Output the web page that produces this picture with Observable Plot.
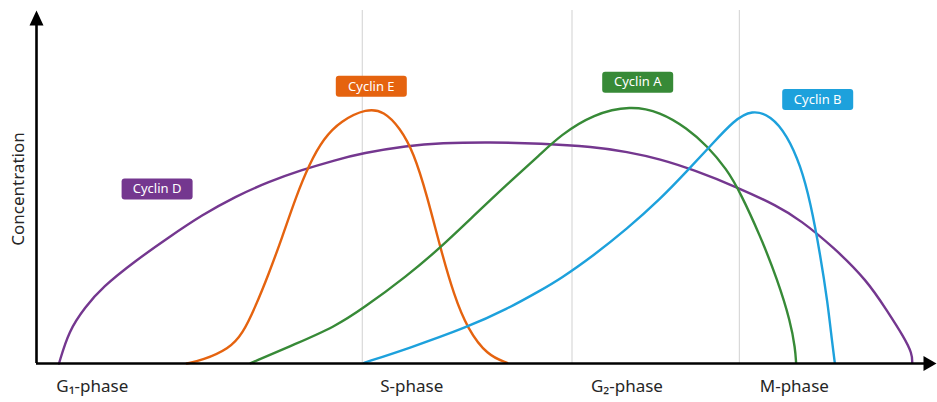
<!DOCTYPE html>
<html>
<head>
<meta charset="utf-8">
<script src="https://cdn.jsdelivr.net/npm/d3@7"></script>
<script src="https://cdn.jsdelivr.net/npm/@observablehq/plot@0.6"></script>
<style>
  html, body { margin: 0; padding: 0; background: #fff; }
  #chart svg { display: block; overflow: visible; }
</style>
</head>
<body>
<div id="chart"></div>
<script>
// ---- Data (time in arbitrary units 0–100, concentration 0–101) ----
const seriesNames = ["Cyclin D", "Cyclin E", "Cyclin A", "Cyclin B"];
const seriesColors = ["#74378f", "#e5630f", "#378a37", "#1da1dc"];

const cyclinD_x = [2.5, 3.6, 5.4, 7.3, 11.0, 14.7, 18.4, 22.1, 25.8, 29.5, 33.2, 36.2, 41.2, 44.9, 50.4, 56.0, 61.9, 65.6, 69.3, 73.0, 77.9, 82.3, 84.9, 88.6, 92.3, 94.5, 96.4, 97.3, 97.3];
const cyclinD_y = [0.0, 9.4, 16.1, 21.8, 29.4, 36.1, 42.5, 47.8, 52.0, 55.4, 58.2, 60.2, 62.3, 63.1, 63.3, 63.0, 62.0, 60.6, 58.5, 55.4, 50.4, 45.1, 41.0, 33.2, 23.7, 15.1, 7.5, 2.8, 0.2];

const cyclinE_x = [16.7, 18.4, 21.4, 22.9, 24.3, 25.8, 27.3, 28.8, 30.3, 31.9, 33.8, 36.7, 38.6, 40.4, 41.9, 43.4, 44.9, 46.4, 47.9, 50.1, 52.3];
const cyclinE_y = [0.0, 0.9, 4.2, 8.5, 16.1, 25.6, 36.1, 47.5, 57.0, 64.4, 69.4, 73.0, 72.2, 67.4, 60.4, 48.0, 32.8, 19.4, 9.9, 2.3, 0.2];

const cyclinA_x = [23.8, 28.8, 33.2, 36.2, 41.2, 44.9, 48.6, 52.3, 56.0, 58.2, 61.9, 66.0, 69.3, 72.3, 74.5, 76.7, 78.2, 80.4, 82.3, 83.8, 84.3, 84.4];
const cyclinA_y = [0.1, 5.6, 10.6, 15.6, 25.1, 33.2, 42.3, 51.3, 59.9, 65.3, 71.4, 73.8, 72.0, 67.3, 62.3, 55.6, 48.9, 36.6, 24.2, 11.8, 4.2, 0.2];

const cyclinB_x = [36.4, 41.2, 47.9, 52.3, 56.0, 58.2, 61.9, 65.6, 69.3, 72.3, 74.9, 77.5, 79.5, 81.6, 83.4, 84.9, 86.0, 87.1, 87.9, 88.4, 88.7];
const cyclinB_y = [0.2, 4.2, 10.4, 15.6, 20.9, 24.2, 30.9, 38.5, 47.0, 55.1, 62.3, 69.6, 72.6, 70.9, 65.3, 56.6, 46.1, 30.9, 17.5, 6.1, 0.2];

// Phase tick labels and phase boundaries
const phaseLabels = ["G\u2081-phase", "S-phase", "G\u2082-phase", "M-phase"];
const phaseLabelX = [6.2, 41.7, 65.6, 84.2];
const phaseBoundaries = [36.2, 59.5, 78.1];

// Series label anchors
const labelX = [13.4, 37.2, 66.8, 86.8];
const labelY = [49.9, 79.3, 80.5, 75.5];

const xDomain = [0, 100];
const yDomain = [0, 101];

// ---- Build tables ----
const seriesXY = [[cyclinD_x, cyclinD_y], [cyclinE_x, cyclinE_y], [cyclinA_x, cyclinA_y], [cyclinB_x, cyclinB_y]];
const lines = seriesXY.flatMap(([xs, ys], i) => xs.map((x, j) => ({series: seriesNames[i], x, y: ys[j]})));
const labels = seriesNames.map((name, i) => ({series: name, x: labelX[i], y: labelY[i]}));
const phases = phaseLabels.map((t, i) => ({text: t, x: phaseLabelX[i]}));

// Custom symbols
const roundRect = {draw(ctx) {
  const w = 71, h = 21, r = 3, x0 = -w / 2, y0 = -h / 2;
  ctx.moveTo(x0 + r, y0);
  ctx.lineTo(x0 + w - r, y0);
  ctx.arcTo(x0 + w, y0, x0 + w, y0 + r, r);
  ctx.lineTo(x0 + w, y0 + h - r);
  ctx.arcTo(x0 + w, y0 + h, x0 + w - r, y0 + h, r);
  ctx.lineTo(x0 + r, y0 + h);
  ctx.arcTo(x0, y0 + h, x0, y0 + h - r, r);
  ctx.lineTo(x0, y0 + r);
  ctx.arcTo(x0, y0, x0 + r, y0, r);
  ctx.closePath();
}};
const arrowUp = {draw(ctx) { ctx.moveTo(0, 0); ctx.lineTo(7, 15); ctx.lineTo(-7, 15); ctx.closePath(); }};
const arrowRight = {draw(ctx) { ctx.moveTo(0, 0); ctx.lineTo(-13, 7.5); ctx.lineTo(-13, -7.5); ctx.closePath(); }};

const font = "'Noto Sans', 'DejaVu Sans', sans-serif";

const chart = Plot.plot({
  width: 937,
  height: 402,
  marginLeft: 36,
  marginRight: 1,
  marginTop: 10,
  marginBottom: 39,
  style: {fontFamily: font, background: "#fff", overflow: "visible"},
  x: {domain: xDomain, axis: null},
  y: {domain: yDomain, axis: null},
  color: {domain: seriesNames, range: seriesColors},
  marks: [
    Plot.ruleX(phaseBoundaries, {x: d => d, y1: yDomain[0], y2: yDomain[1], stroke: "#d9d9d9", strokeWidth: 1.2}),
    Plot.line(lines, {x: "x", y: "y", z: "series", stroke: "series", strokeWidth: 2.4, curve: "basis"}),
    // axes
    Plot.ruleY([yDomain[0]], {x1: xDomain[0], x2: xDomain[1] - 1, stroke: "#000", strokeWidth: 2.6}),
    Plot.ruleX([xDomain[0]], {y1: yDomain[0], y2: yDomain[1] - 2, stroke: "#000", strokeWidth: 2.6}),
    Plot.dot([0], {x: xDomain[0], y: yDomain[1], symbol: arrowUp, fill: "#000", stroke: "none"}),
    Plot.dot([0], {x: xDomain[1], y: yDomain[0], symbol: arrowRight, fill: "#000", stroke: "none"}),
    // series labels
    Plot.dot(labels, {x: "x", y: "y", symbol: roundRect, fill: "series", stroke: "none"}),
    Plot.text(labels, {x: "x", y: "y", text: "series", fill: "#fff", fontSize: 13}),
    // phase labels
    Plot.text(phases, {x: "x", text: "text", frameAnchor: "bottom", lineAnchor: "middle", dy: 23, fontSize: 17, fill: "#262626"}),
    // y label
    Plot.text(["Concentration"], {frameAnchor: "left", textAnchor: "middle", lineAnchor: "middle", dx: -18, dy: 2, rotate: -90, fontSize: 17, fill: "#262626"})
  ]
});
document.getElementById("chart").appendChild(chart);
</script>
</body>
</html>
